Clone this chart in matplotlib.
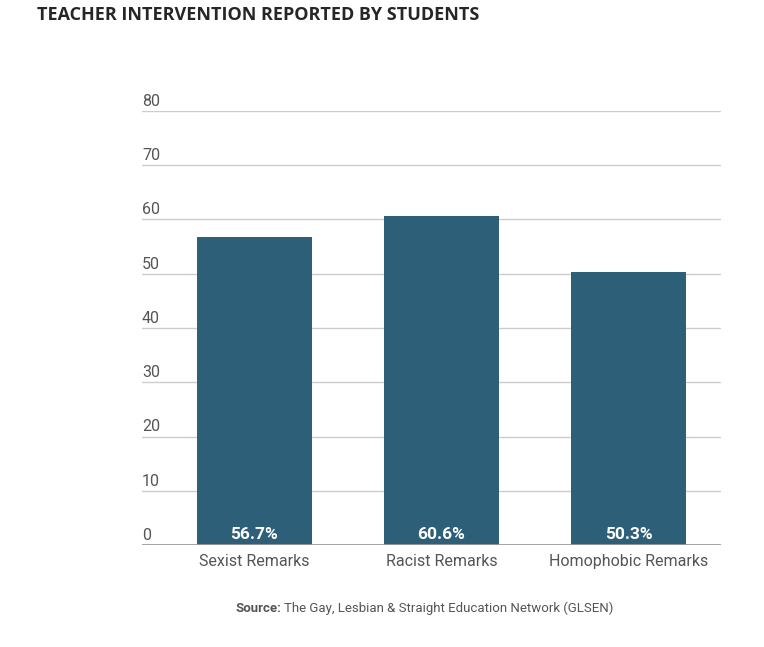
import matplotlib
matplotlib.use("Agg")
import matplotlib.pyplot as plt
import matplotlib.transforms as mtransforms

categories = ["Sexist Remarks", "Racist Remarks", "Homophobic Remarks"]
values = [56.7, 60.6, 50.3]
yticks = [0, 10, 20, 30, 40, 50, 60, 70, 80]

plt.rcParams['font.family'] = ['Roboto', 'DejaVu Sans']

W, H = 764, 647
fig = plt.figure(figsize=(W/100, H/100), dpi=100)
left, right = 142, 721
top, bottom = 111, 545
ax = fig.add_axes([left/W, 1 - bottom/H, (right-left)/W, (bottom-top)/H])

bar_color = "#2e5f78"
x = list(range(len(categories)))
ax.bar(x, values, width=0.615, color=bar_color, zorder=3)
ax.set_xlim(-0.6016, 2.4947)
ax.set_ylim(0, 80)

for t in yticks[1:]:
    ax.axhline(t, color="#cccccc", lw=1.0, zorder=1)
ax.axhline(0, color="#999999", lw=2.0, zorder=4)

for s in ax.spines.values():
    s.set_visible(False)
ax.set_xticks([])
ax.set_yticks([])

trans = mtransforms.blended_transform_factory(ax.transAxes, ax.transData)
off = mtransforms.offset_copy(trans, fig=fig, x=0, y=1.5, units='points')
for t in yticks:
    ax.text(0.0, t, str(t), transform=off, ha='left', va='bottom',
            fontsize=11.5, color="#555555")

offv = mtransforms.offset_copy(ax.transData, fig=fig, x=0, y=2.5, units='points')
for xi, v in zip(x, values):
    ax.text(xi, 0, f"{v}%", transform=offv, ha='center', va='bottom',
            fontsize=12.5, fontweight='bold', color="white", zorder=5)

offc = mtransforms.offset_copy(ax.transData, fig=fig, x=0, y=-6.5, units='points')
for xi, c in zip(x, categories):
    ax.text(xi, 0, c, transform=offc, ha='center', va='top',
            fontsize=11.5, color="#555555")

fig.text(37/W, 1 - 15/H, "TEACHER INTERVENTION REPORTED BY STUDENTS",
         ha='left', va='center', fontsize=13, fontweight='bold',
         family=['Open Sans', 'DejaVu Sans'], color="#262626")

t1 = fig.text(235/W, 1 - 608/H, "Source:", ha='left', va='center',
              fontsize=9.5, fontweight='bold', color="#555555")
fig.canvas.draw()
bb = t1.get_window_extent()
fig.text((bb.x1 + 3)/W, 1 - 608/H, "The Gay, Lesbian & Straight Education Network (GLSEN)",
         ha='left', va='center', fontsize=9.5, color="#555555")

fig.savefig("out.png", dpi=100)
